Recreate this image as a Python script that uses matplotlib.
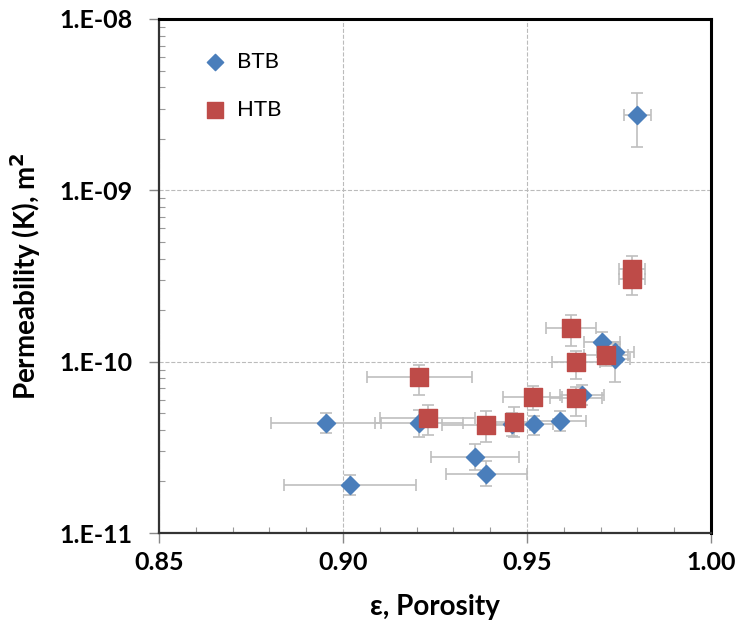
import matplotlib.pyplot as plt
from matplotlib.ticker import FixedLocator, FixedFormatter, MultipleLocator, LogLocator, NullFormatter

# BTB samples: porosity, permeability, x error, permeability low/high
btb_eps = [0.8954, 0.9019, 0.9207, 0.9359, 0.9389, 0.9460, 0.9520, 0.9590, 0.9650, 0.9704, 0.9740, 0.9740, 0.9800]
btb_k = [4.4e-11, 1.9e-11, 4.4e-11, 2.77e-11, 2.2e-11, 4.3e-11, 4.3e-11, 4.5e-11, 6.4e-11, 1.3e-10, 1.14e-10, 1.03e-10, 2.77e-9]
btb_xerr = [0.015, 0.018, 0.012, 0.012, 0.011, 0.006, 0.005, 0.007, 0.006, 0.005, 0.005, 0.004, 0.0037]
btb_klo = [3.85e-11, 1.66e-11, 3.61e-11, 2.32e-11, 1.87e-11, 3.7e-11, 3.71e-11, 3.94e-11, 5.6e-11, 1.14e-10, 1.0e-10, 7.65e-11, 1.78e-9]
btb_khi = [5.0e-11, 2.17e-11, 5.19e-11, 3.29e-11, 2.62e-11, 5.0e-11, 4.79e-11, 5.14e-11, 7.3e-11, 1.49e-10, 1.3e-10, 1.27e-10, 3.7e-9]

# HTB samples
htb_eps = [0.9207, 0.9230, 0.9389, 0.9465, 0.9516, 0.9620, 0.9633, 0.9633, 0.9715, 0.9785, 0.9785]
htb_k = [8.1e-11, 4.7e-11, 4.25e-11, 4.47e-11, 6.2e-11, 1.58e-10, 9.9e-11, 6.1e-11, 1.1e-10, 3.47e-10, 3.04e-10]
htb_xerr = [0.0143, 0.013, 0.012, 0.006, 0.008, 0.0068, 0.0065, 0.007, 0.006, 0.0035, 0.0035]
htb_klo = [6.42e-11, 3.72e-11, 3.38e-11, 3.61e-11, 5.19e-11, 1.24e-10, 7.96e-11, 4.85e-11, 9.4e-11, 3.1e-10, 2.45e-10]
htb_khi = [9.6e-11, 5.55e-11, 5.12e-11, 5.41e-11, 7.24e-11, 1.86e-10, 1.16e-10, 7.16e-11, 1.29e-10, 4.13e-10, 3.4e-10]

x_ticks = [0.85, 0.90, 0.95, 1.00]
x_labels = ['0.85', '0.90', '0.95', '1.00']
y_ticks = [1e-11, 1e-10, 1e-9, 1e-8]
y_labels = ['1.E-11', '1.E-10', '1.E-09', '1.E-08']

plt.rcParams['font.family'] = ['Lato', 'DejaVu Sans']

fig = plt.figure(figsize=(7.4, 6.27), dpi=100)
ax = fig.add_axes([0.2149, 0.1499, 0.7459, 0.8198])


def yerr_of(k, lo, hi):
    return [[a - b for a, b in zip(k, lo)], [b - a for a, b in zip(k, hi)]]


err_style = dict(fmt='none', ecolor='#BFBFBF', elinewidth=1.2, capsize=4, capthick=1.2, zorder=2)
ax.errorbar(btb_eps, btb_k, xerr=btb_xerr, yerr=yerr_of(btb_k, btb_klo, btb_khi), **err_style)
ax.errorbar(htb_eps, htb_k, xerr=htb_xerr, yerr=yerr_of(htb_k, htb_klo, htb_khi), **err_style)

ax.scatter(btb_eps, btb_k, marker='D', s=85, color='#4A7EBB', edgecolors='#4A7EBB', zorder=3, label='BTB')
ax.scatter(htb_eps, htb_k, marker='s', s=150, color='#BE4B48', edgecolors='#BE4B48', zorder=4, label='HTB')

ax.set_yscale('log')
ax.set_xlim(0.85, 1.00)
ax.set_ylim(1e-11, 1e-8)

ax.xaxis.set_major_locator(FixedLocator(x_ticks))
ax.xaxis.set_major_formatter(FixedFormatter(x_labels))
ax.xaxis.set_minor_locator(MultipleLocator(0.01))
ax.yaxis.set_major_locator(FixedLocator(y_ticks))
ax.yaxis.set_major_formatter(FixedFormatter(y_labels))
ax.yaxis.set_minor_locator(LogLocator(base=10, subs=range(2, 10)))
ax.yaxis.set_minor_formatter(NullFormatter())

ax.tick_params(which='major', direction='out', length=7, width=1, color='#888888', labelsize=18)
ax.tick_params(axis='x', which='major', pad=6)
ax.tick_params(axis='y', which='major', pad=12)
ax.tick_params(which='minor', direction='in', length=4, width=0.8, color='#999999')
for lab in ax.get_xticklabels() + ax.get_yticklabels():
    lab.set_fontweight('bold')

ax.grid(which='major', linestyle='--', color='#BBBBBB', linewidth=0.8)
ax.set_axisbelow(True)

for side in ['top', 'right']:
    ax.spines[side].set_linewidth(2.2)
    ax.spines[side].set_color('black')
for side in ['left', 'bottom']:
    ax.spines[side].set_linewidth(1.6)
    ax.spines[side].set_color('#333333')

ax.set_xlabel('ε, Porosity', fontsize=20, fontweight='bold', labelpad=14)
ax.set_ylabel('Permeability (K), m$^\\mathbf{2}$', fontsize=20, fontweight='bold', labelpad=12)

ax.legend(loc='upper left', bbox_to_anchor=(0.025, 0.975), frameon=False, fontsize=16,
          labelspacing=1.25, handletextpad=0.0, markerscale=0.9)

fig.savefig('out.png', dpi=100)
